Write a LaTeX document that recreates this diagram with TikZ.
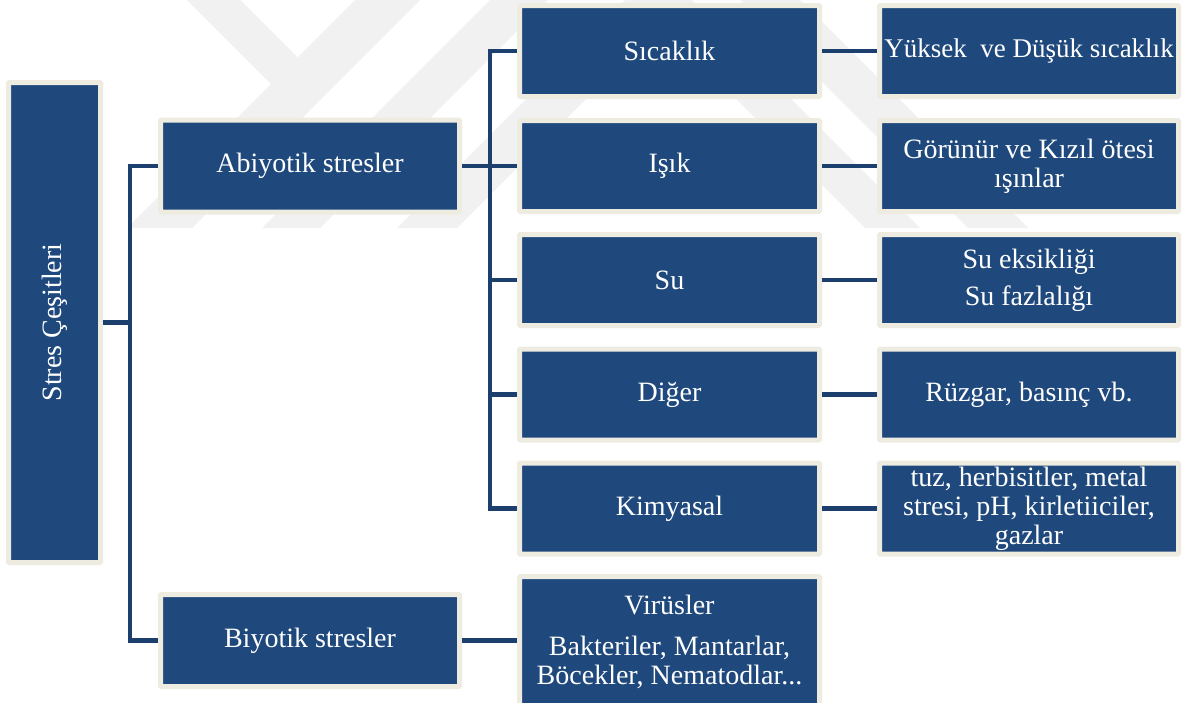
\documentclass[tikz,border=0pt]{standalone}
\usepackage{fontspec}
\setmainfont{Liberation Serif}
\definecolor{boxblue}{HTML}{1F497D}
\definecolor{cream}{HTML}{EEECE1}
\definecolor{linkblue}{HTML}{1C3F6E}
\definecolor{wmark}{HTML}{F1F1F1}
\tikzset{
  box/.style={draw=cream, line width=5pt, fill=boxblue, rounded corners=1pt,
    text=white, font=\fontsize{28}{29}\selectfont, align=center, inner sep=0pt},
  lvlone/.style={box, minimum width=299pt, minimum height=92pt},
  lvltwo/.style={box, minimum width=300pt, minimum height=91pt},
  lvlthree/.style={box, minimum width=299pt, minimum height=91pt},
  link/.style={draw=linkblue, line width=4.5pt},
  wm/.style={fill=wmark, draw=none},
  txt/.style={text=white, font=\fontsize{28}{29}\selectfont, align=center, inner sep=0pt}
}
\begin{document}
\begin{tikzpicture}[x=1pt,y=-1pt]
\useasboundingbox (0,0) rectangle (1185,702);
\clip (0,0) rectangle (1185,702);
\fill[white] (0,0) rectangle (1185,702);
% watermark
\path[wm] (187,0) -- (240,0) -- (297.5,57.5) -- (271,84) -- cycle;
\path[wm] (355,0) -- (420,0) -- (192,228) -- (127,228) -- cycle;
\path[wm] (490,0) -- (548,0) -- (320,228) -- (262,228) -- cycle;
\path[wm] (625,0) -- (685,0) -- (457,228) -- (397,228) -- cycle;
\path[wm] (637,0) -- (692,0) -- (920,228) -- (865,228) -- cycle;
\path[wm] (740,0) -- (800,0) -- (1028,228) -- (968,228) -- cycle;

% nodes
\node[box, minimum width=92pt, minimum height=480pt] (root) at (54.5,322.5) {\rotatebox{90}{Stres Çeşitleri}};
\node[lvlone] (abio) at (310,166) {Abiyotik stresler};
\node[lvlone] (bio) at (310,640.5) {Biyotik stresler};

\node[lvltwo] (sic) at (669.5,51) {Sıcaklık};
\node[lvltwo] (isik) at (669.5,166) {Işık};
\node[lvltwo] (su) at (669.5,280) {Su};
\node[lvltwo] (diger) at (669.5,394.5) {Diğer};
\node[lvltwo] (kim) at (669.5,508.5) {Kimyasal};
\node[box, minimum width=300pt, minimum height=143.5pt] (vir) at (669.5,648.25) {};
\node[txt] (virtxt) at (669.5,642) {Virüsler\\[12pt]Bakteriler, Mantarlar,\\Böcekler, Nematodlar...};

\node[lvlthree, font=\fontsize{27}{29}\selectfont] (sic3) at (1029,51) {Yüksek\ \ ve Düşük sıcaklık};
\node[lvlthree] (isik3) at (1029,166) {Görünür ve Kızıl ötesi\\ışınlar};
\node[lvlthree] (su3) at (1029,280) {\raisebox{-3pt}{Su eksikliği}\\[8pt]\raisebox{-3pt}{Su fazlalığı}};
\node[lvlthree] (diger3) at (1029,394.5) {Rüzgar, basınç vb.};
\node[lvlthree] (kim3) at (1029,508.5) {tuz, herbisitler, metal\\stresi, pH, kirletiiciler,\\gazlar};

% connectors
\coordinate (j1) at (130,322.5);
\coordinate (j2) at (490,166);
\draw[link] (root.east) -- (j1);
\draw[link] (abio.west) -| (j1);
\draw[link] (bio.west) -| (j1);
\draw[link] (abio.east) -- (j2);
\draw[link] (sic.west) -| (j2);
\draw[link] (isik.west) -- (j2);
\draw[link] (su.west) -| (j2);
\draw[link] (diger.west) -| (j2);
\draw[link] (kim.west) -| (j2);
\draw[link] (bio.east) -- (bio.east -| vir.west);
\draw[link] (sic.east) -- (sic3.west);
\draw[link] (isik.east) -- (isik3.west);
\draw[link] (su.east) -- (su3.west);
\draw[link] (diger.east) -- (diger3.west);
\draw[link] (kim.east) -- (kim3.west);
\end{tikzpicture}
\end{document}
